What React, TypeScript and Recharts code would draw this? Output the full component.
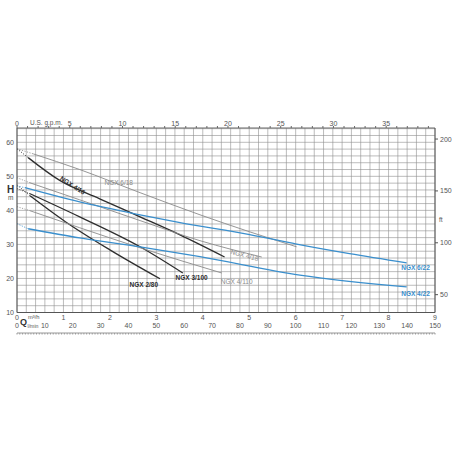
import { ComposedChart, Line, XAxis, YAxis, CartesianGrid, Scatter } from 'recharts';

const FONT = "'Liberation Sans Narrow', 'Liberation Sans', Arial, sans-serif";
const DARK = '#2e2e2e';
const GRAY = '#8a8a8a';
const BLUE = '#3a8fcd';

// pump curves: [Q m3/h, H m]
const ngx618 = [[0, 58.1], [0.35, 56.6], [1.35, 52.0], [2.65, 45.2], [3.94, 38.7], [5.01, 33.7], [6.02, 29.3]];
const ngx416 = [[0, 58.1], [0.24, 55.5], [0.92, 48.8], [1.78, 43.4], [2.65, 38.1], [3.51, 32.8], [4.47, 26.3]];
const ngx418 = [[0, 49.6], [0.28, 48.1], [1.35, 43.1], [2.65, 37.0], [3.94, 31.1], [5.27, 26.3]];
const ngx3100 = [[0, 46.4], [0.28, 44.9], [1.35, 38.1], [2.65, 29.3], [3.57, 21.6]];
const ngx280 = [[0, 47.5], [0.28, 44.3], [1.05, 36.6], [2.0, 28.4], [3.08, 19.9]];
const ngx4110 = [[0, 41.1], [0.28, 39.9], [1.35, 34.9], [2.65, 29.0], [4.41, 21.6]];
const ngx622 = [[0, 47.1], [0.17, 46.7], [1.35, 42.5], [2.65, 38.7], [3.51, 36.4], [5.01, 32.9], [6.02, 30.1], [7.16, 27.3], [8.39, 24.6]];
const ngx422 = [[0, 36.1], [0.24, 34.6], [1.35, 31.9], [2.65, 29.3], [3.94, 26.4], [6.09, 21.0], [8.39, 17.5]];

const curves = [
  { id: '618', pts: ngx618, color: GRAY, w: 0.9 },
  { id: '416', pts: ngx416, color: DARK, w: 1.3 },
  { id: '418', pts: ngx418, color: GRAY, w: 0.9 },
  { id: '3100', pts: ngx3100, color: DARK, w: 1.3 },
  { id: '280', pts: ngx280, color: DARK, w: 1.3 },
  { id: '4110', pts: ngx4110, color: GRAY, w: 0.9 },
  { id: '622', pts: ngx622, color: BLUE, w: 1.3 },
  { id: '422', pts: ngx422, color: BLUE, w: 1.3 },
];

// curve names placed next to the curves
const curveLabels = [
  { q: 2.19, h: 48.3, text: 'NGX 6/18', color: GRAY, bold: false, rot: 0 },
  { q: 1.2, h: 47.4, text: 'NGX 4/16', color: DARK, bold: true, rot: 33 },
  { q: 4.9, h: 26.9, text: 'NGX 4/18', color: GRAY, bold: false, rot: 15 },
  { q: 4.73, h: 19.0, text: 'NGX 4/110', color: GRAY, bold: false, rot: 0 },
  { q: 3.76, h: 20.2, text: 'NGX 3/100', color: DARK, bold: true, rot: 0 },
  { q: 2.73, h: 18.1, text: 'NGX 2/80', color: DARK, bold: true, rot: 0 },
  { q: 8.58, h: 23.1, text: 'NGX 6/22', color: BLUE, bold: true, rot: 0 },
  { q: 8.58, h: 15.7, text: 'NGX 4/22', color: BLUE, bold: true, rot: 0 },
];

const qTicks = [0, 1, 2, 3, 4, 5, 6, 7, 8, 9];
const lminLabels = [0, 10, 20, 30, 40, 50, 60, 70, 80, 90, 100, 110, 120, 130, 140, 150];
const lminTicks = Array.from({ length: 151 }, (_, i) => i);
const gpmLabels = [0, 5, 10, 15, 20, 25, 30, 35];
const gpmTicks = Array.from({ length: 40 }, (_, i) => i);
const hTicks = [10, 20, 30, 40, 50, 60];
const ftTicks = [50, 100, 150, 200];
const gridQ = Array.from({ length: 46 }, (_, i) => +(i * 0.2).toFixed(1));
const gridH = Array.from({ length: 28 }, (_, i) => 10 + i * 2);

// invisible series so the secondary unit axes get a domain
const lminAnchor = [{ l: 0, f: 50 }, { l: 150, f: 200 }];
const gpmAnchor = [{ g: 0, f: 50 }, { g: 39.6, f: 200 }];

const toObj = (pts: number[][]) => pts.map(([q, h]) => ({ q, h }));

function LabelShape(props: any) {
  const { cx, cy, payload } = props;
  return (
    <text
      x={cx}
      y={cy}
      textAnchor="middle"
      dominantBaseline="central"
      fontSize={6.5}
      fontFamily={FONT}
      fontWeight={payload.bold ? 700 : 400}
      fill={payload.color}
      transform={payload.rot ? `rotate(${payload.rot} ${cx} ${cy})` : undefined}
    >
      {payload.text}
    </text>
  );
}

export default function App() {
  const tickText = { fontSize: 7, fill: '#555', fontFamily: FONT };
  return (
    <div style={{ position: 'absolute', left: 0, top: 0, width: 456, height: 456, background: '#fff' }}>
      <ComposedChart width={456} height={456} margin={{ top: 118, right: 0, bottom: 111, left: 0 }}>
        <XAxis
          xAxisId="zl"
          type="number"
          dataKey="l"
          domain={[0, 150]}
          ticks={lminTicks}
          interval={0}
          height={12}
          tickSize={1.5}
          tickMargin={0}
          stroke="#999"
          tick={(p: any) =>
            lminLabels.includes(p.payload.value) ? (
              <text x={p.x} y={p.y - 7} textAnchor="middle" {...tickText}>{p.payload.value}</text>
            ) : <g />
          }
        />
        <XAxis
          xAxisId="aq"
          type="number"
          dataKey="q"
          domain={[0, 9]}
          ticks={qTicks}
          interval={0}
          height={20.5}
          tickSize={0}
          tickMargin={0}
          stroke="#555"
          tick={(p: any) => (
            <text x={p.x} y={p.y + 7} textAnchor="middle" {...tickText}>{p.payload.value}</text>
          )}
        />
        <XAxis
          xAxisId="gpm"
          orientation="top"
          type="number"
          dataKey="g"
          domain={[0, 39.626]}
          ticks={gpmTicks}
          interval={0}
          height={10}
          tickSize={2}
          tickMargin={0}
          stroke="#666"
          tick={(p: any) =>
            gpmLabels.includes(p.payload.value) ? (
              <text x={p.x} y={p.y} textAnchor="middle" {...tickText}>{p.payload.value}</text>
            ) : <g />
          }
        />
        <YAxis
          yAxisId="m"
          type="number"
          domain={[10, 64.2]}
          ticks={hTicks}
          interval={0}
          width={17}
          tickSize={0}
          tickMargin={3}
          stroke="#555"
          tick={(p: any) => (
            <text x={p.x} y={p.y + 2.5} textAnchor="end" {...tickText}>{p.payload.value}</text>
          )}
        />
        <YAxis
          yAxisId="ft"
          orientation="right"
          type="number"
          domain={[32.81, 210.64]}
          ticks={ftTicks}
          interval={0}
          width={21}
          tickSize={3}
          tickMargin={2}
          stroke="#555"
          tick={(p: any) => (
            <text x={p.x} y={p.y + 2.5} textAnchor="start" {...tickText}>{p.payload.value}</text>
          )}
        />
        <CartesianGrid
          xAxisId="aq"
          yAxisId="m"
          verticalValues={gridQ}
          horizontalValues={gridH}
          stroke="#8f8f8f"
          strokeWidth={0.6}
        />
        {curves.map((c) => (
          <Line
            key={c.id + 'd'}
            xAxisId="aq"
            yAxisId="m"
            data={toObj(c.pts.slice(0, 2))}
            dataKey="h"
            type="linear"
            stroke={c.color}
            strokeWidth={0.8}
            strokeDasharray="1.2 1.4"
            dot={false}
            isAnimationActive={false}
          />
        ))}
        {curves.map((c) => (
          <Line
            key={c.id}
            xAxisId="aq"
            yAxisId="m"
            data={toObj(c.pts.slice(1))}
            dataKey="h"
            type="monotone"
            stroke={c.color}
            strokeWidth={c.w}
            dot={false}
            isAnimationActive={false}
          />
        ))}
        <Line xAxisId="zl" yAxisId="ft" data={lminAnchor} dataKey="f" stroke="none" dot={false} isAnimationActive={false} />
        <Line xAxisId="gpm" yAxisId="ft" data={gpmAnchor} dataKey="f" stroke="none" dot={false} isAnimationActive={false} />
        <Scatter
          xAxisId="aq"
          yAxisId="m"
          data={curveLabels}
          dataKey="h"
          shape={LabelShape}
          isAnimationActive={false}
        />
      </ComposedChart>
      <svg width={456} height={456} style={{ position: 'absolute', left: 0, top: 0, pointerEvents: 'none' }}>
        <text x={30} y={124.5} fontSize={6.5} fill="#555" fontFamily={FONT}>U.S. g.p.m.</text>
        <text x={7} y={193} fontSize={10} fontWeight={700} fill="#333" fontFamily={FONT}>H</text>
        <text x={8} y={200} fontSize={6.5} fill="#555" fontFamily={FONT}>m</text>
        <text x={20} y={325} fontSize={9} fontWeight={700} fill="#333" fontFamily={FONT}>Q</text>
        <text x={28} y={319} fontSize={5.8} fill="#555" fontFamily={FONT}>m³/h</text>
        <text x={27.5} y={327.5} fontSize={5.5} fill="#555" fontFamily={FONT} textLength={11} lengthAdjust="spacingAndGlyphs">l/min</text>
        <text x={439} y={222} fontSize={6.5} fill="#555" fontFamily={FONT}>ft</text>
      </svg>
    </div>
  );
}
